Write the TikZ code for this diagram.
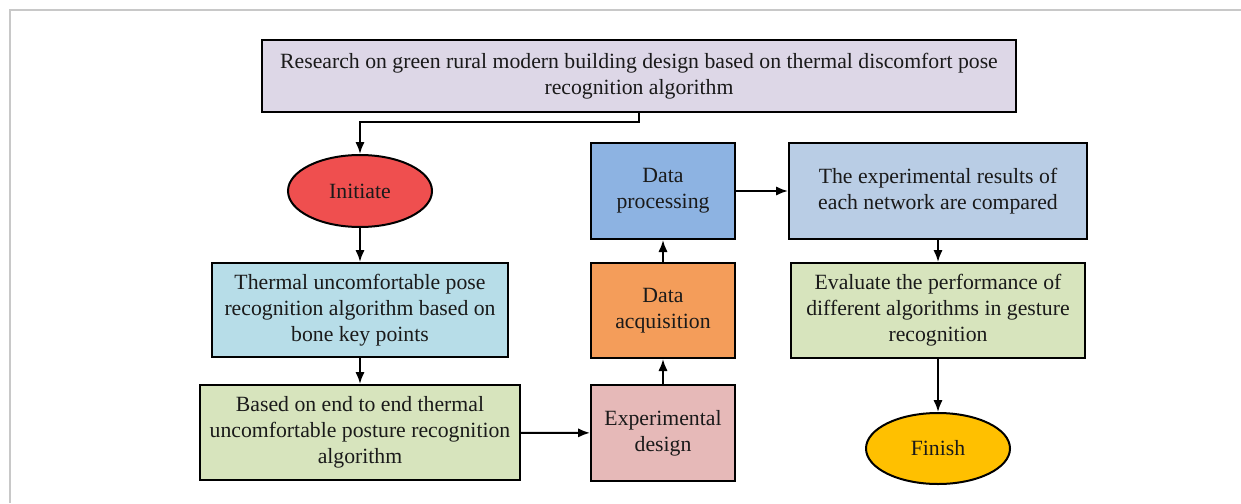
\documentclass[tikz,border=0pt]{standalone}
\usepackage{fontspec}
\setmainfont{Liberation Serif}
\usetikzlibrary{shapes.geometric,arrows.meta}
\definecolor{cTop}{HTML}{DDD7E7}
\definecolor{cStart}{HTML}{EF4F4F}
\definecolor{cBone}{HTML}{B7DDE8}
\definecolor{cGreen}{HTML}{D7E4BD}
\definecolor{cExp}{HTML}{E6B9B8}
\definecolor{cAcq}{HTML}{F49D5A}
\definecolor{cProc}{HTML}{8DB3E2}
\definecolor{cRes}{HTML}{B9CDE5}
\definecolor{cEnd}{HTML}{FFC000}
\definecolor{cFrame}{HTML}{C8C8C8}
\definecolor{cText}{HTML}{1A1A1A}
\tikzset{
  box/.style={draw=black, line width=1.5pt, rectangle, align=center, inner sep=0pt,
    text=cText, font=\fontsize{16.3}{19.6}\selectfont},
  oval/.style={draw=black, line width=1.5pt, ellipse, inner sep=0pt, align=center,
    text=cText, font=\fontsize{16.3}{19.6}\selectfont},
  flow/.style={draw=black, line width=1.5pt, -{Latex[length=9pt,width=7pt]}},
}
\begin{document}
\begin{tikzpicture}[x=0.75pt, y=-0.75pt]
\useasboundingbox (0,0) rectangle (1241,503);
% outer frame (top and left edges only)
\draw[cFrame, line width=1.5pt] (10,503) -- (10,10) -- (1241,10);

% nodes
\node[box, fill=cTop, minimum width=754*0.75pt, minimum height=72*0.75pt] (top) at (639,76)
  {Research on green rural modern building design based on thermal discomfort pose\\recognition algorithm};
\node[oval, fill=cStart, minimum width=144*0.75pt, minimum height=72*0.75pt] (start) at (360,191) {Initiate};
\node[box, fill=cBone, minimum width=296*0.75pt, minimum height=94*0.75pt] (bone) at (360,310)
  {Thermal uncomfortable pose\\recognition algorithm based on\\bone key points};
\node[box, fill=cGreen, minimum width=320*0.75pt, minimum height=95*0.75pt] (e2e) at (360,432.5)
  {Based on end to end thermal\\uncomfortable posture recognition\\algorithm};
\node[box, fill=cExp, minimum width=144*0.75pt, minimum height=96*0.75pt] (exp) at (663,433)
  {Experimental\\design};
\node[box, fill=cAcq, minimum width=144*0.75pt, minimum height=95*0.75pt] (acq) at (663,310.5)
  {Data\\acquisition};
\node[box, fill=cProc, minimum width=144*0.75pt, minimum height=96*0.75pt] (proc) at (663,191)
  {Data\\processing};
\node[box, fill=cRes, minimum width=298*0.75pt, minimum height=96*0.75pt] (res) at (938,191)
  {The experimental results of\\each network are compared};
\node[box, fill=cGreen, minimum width=294*0.75pt, minimum height=95*0.75pt] (eval) at (938,310.5)
  {Evaluate the performance of\\different algorithms in gesture\\recognition};
\node[oval, fill=cEnd, minimum width=144*0.75pt, minimum height=71*0.75pt] (finish) at (938,448.5) {Finish};

% connectors
\draw[flow] (top.south -| 639,0) |- (360,122) -- (start.north);
\draw[flow] (start) -- (bone);
\draw[flow] (bone) -- (e2e);
\draw[flow] (e2e) -- (exp);
\draw[flow] (exp) -- (acq);
\draw[flow] (acq) -- (proc);
\draw[flow] (proc) -- (res);
\draw[flow] (res) -- (eval);
\draw[flow] (eval) -- (finish);
\end{tikzpicture}
\end{document}
